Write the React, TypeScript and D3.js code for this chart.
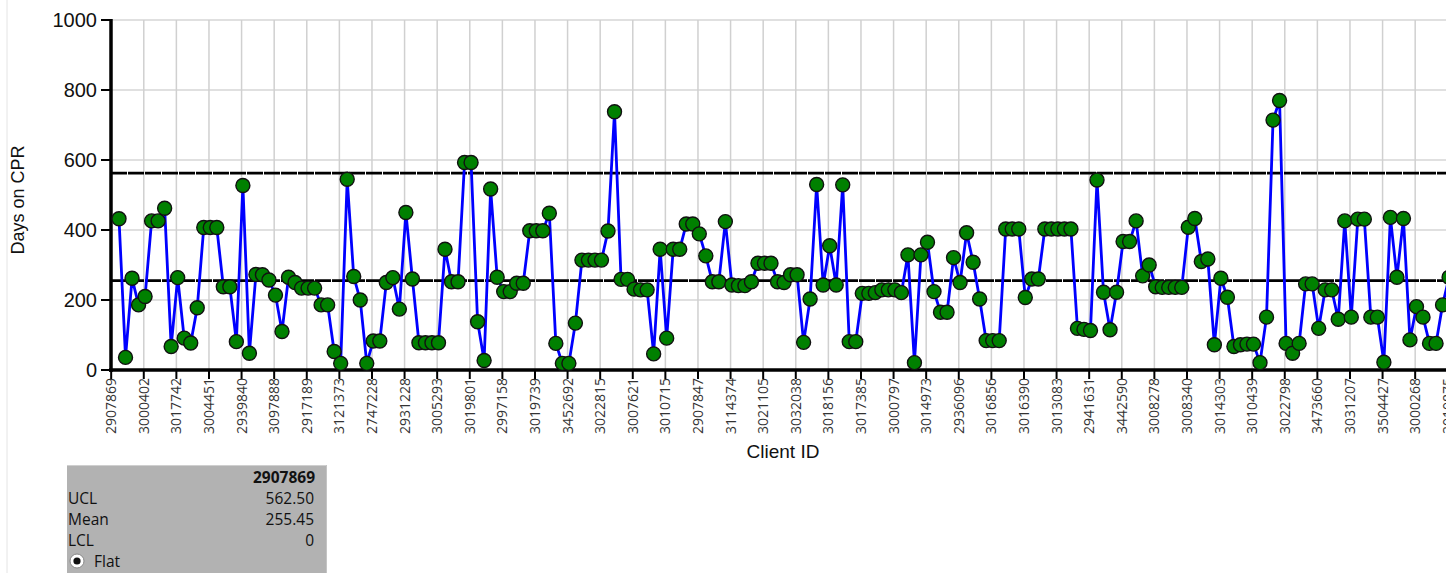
import React from 'react';
import * as d3 from 'd3';

// days on CPR per client, read left to right
const daysOnCpr = [
  432, 36, 262, 186, 210, 426, 426, 462, 67, 264,
  91, 77, 178, 407, 407, 407, 238, 238, 81, 527,
  48, 273, 272, 257, 214, 110, 265, 250, 234, 234,
  234, 186, 186, 53, 19, 545, 267, 200, 19, 83,
  83, 250, 264, 174, 450, 260, 78, 78, 78, 78,
  345, 252, 252, 593, 593, 138, 27, 517, 265, 224,
  224, 248, 248, 398, 398, 398, 448, 76, 19, 19,
  134, 314, 314, 314, 314, 397, 738, 259, 259, 231,
  229, 229, 46, 345, 91, 345, 345, 417, 417, 389,
  326, 252, 252, 424, 243, 241, 241, 252, 305, 305,
  305, 252, 250, 272, 272, 79, 203, 530, 243, 355,
  243, 529, 81, 81, 219, 219, 221, 229, 229, 229,
  221, 329, 21, 329, 365, 224, 165, 165, 321, 250,
  392, 308, 203, 84, 84, 84, 403, 403, 403, 207,
  260, 260, 403, 403, 403, 403, 403, 119, 116, 113,
  543, 222, 115, 222, 367, 367, 426, 269, 300, 238,
  236, 236, 236, 236, 408, 433, 310, 317, 72, 262,
  208, 67, 72, 74, 74, 21, 151, 714, 770, 76,
  48, 76, 246, 246, 119, 229, 229, 145, 426, 151,
  431, 431, 151, 151, 22, 436, 265, 433, 86, 181,
  151, 76, 76, 186, 265,
];

// every 5th client id is shown on the axis
const clientLabels = [
  '2907869', '3000402', '3017742', '3004451', '2939840', '3097888', '2917189',
  '3121373', '2747228', '2931228', '3005293', '3019801', '2997158', '3019739',
  '3452692', '3022815', '3007621', '3010715', '2907847', '3114374', '3021105',
  '3032038', '3018156', '3017385', '3000797', '3014973', '2936096', '3016856',
  '3016390', '3013083', '2941631', '3442590', '3008278', '3008340', '3014303',
  '3010439', '3022798', '3473660', '3031207', '3504427', '3000268', '3010875',
];

const yTicks = [0, 200, 400, 600, 800, 1000];
const ucl = 562.5;
const mean = 255.45;
const lcl = 0;

const W = 1446;
const H = 573;
const left = 111;
const top = 20;
const bottom = 370;
const labelEvery = 5;
const tickShift = 1.2; // labels sit a bit left of their point

export default function App() {
  const x = d3.scaleLinear()
    .domain([0, daysOnCpr.length - 1])
    .range([119, 119 + 6.52 * (daysOnCpr.length - 1)]);
  const y = d3.scaleLinear().domain([0, 1000]).range([bottom, top]);

  const line = d3.line<number>()
    .x((d, i) => x(i))
    .y(d => y(d));

  const tickX = (j: number) => x(j * labelEvery - tickShift);

  const infoRows = [
    ['UCL', ucl.toFixed(2)],
    ['Mean', mean.toFixed(2)],
    ['LCL', String(lcl)],
  ];

  return (
    <svg width={W} height={H} style={{ position: 'absolute', left: 0, top: 0, background: '#fff' }}>
      <line x1={7} x2={7} y1={0} y2={H} stroke="#e4e4e4" />

      {/* grid */}
      {yTicks.map(t => (
        <line key={'gy' + t} x1={left} x2={W} y1={y(t)} y2={y(t)} stroke="#d6d6d6" strokeWidth={1.5} />
      ))}
      {clientLabels.map((l, j) => (
        <line key={'gx' + j} x1={tickX(j)} x2={tickX(j)} y1={top} y2={bottom} stroke="#d0d0d0" strokeWidth={1.5} />
      ))}

      {/* control limits */}
      {[ucl, mean].map(v => (
        <line key={'c' + v} x1={left} x2={W} y1={y(v)} y2={y(v)} stroke="#000" strokeWidth={2.8} strokeDasharray="16,1" />
      ))}

      {/* axes */}
      <line x1={left} x2={left} y1={top - 1} y2={bottom + 2} stroke="#000" strokeWidth={3.5} />
      <line x1={left - 2} x2={W} y1={y(lcl)} y2={y(lcl)} stroke="#000" strokeWidth={3.5} />
      {yTicks.map(t => (
        <g key={'ty' + t}>
          <line x1={101} x2={left} y1={y(t)} y2={y(t)} stroke="#000" strokeWidth={2} />
          <text x={97} y={y(t)} dy="0.36em" textAnchor="end" fontFamily="Liberation Sans, Arial" fontSize={20} fill="#111">{t}</text>
        </g>
      ))}
      {clientLabels.map((l, j) => (
        <g key={'tx' + j}>
          <line x1={tickX(j)} x2={tickX(j)} y1={bottom} y2={bottom + 9} stroke="#000" strokeWidth={2} />
          <text transform={`translate(${tickX(j)},${bottom + 8}) rotate(-90)`} dy="0.36em" textAnchor="end"
            fontFamily="Open Sans" fontSize={14} fill="#333">{l}</text>
        </g>
      ))}
      <text x={783} y={458} textAnchor="middle" fontFamily="Liberation Sans, Arial" fontSize={19} fill="#111">Client ID</text>
      <text transform="translate(24,200) rotate(-90)" textAnchor="middle" fontFamily="Liberation Sans, Arial" fontSize={18} fill="#111">Days on CPR</text>

      {/* series */}
      <path d={line(daysOnCpr) || ''} fill="none" stroke="#0000ff" strokeWidth={2.8} />
      {daysOnCpr.map((d, i) => (
        <circle key={i} cx={x(i)} cy={y(d)} r={7} fill="#008000" stroke="#111" strokeWidth={1.4} />
      ))}

      {/* info box */}
      <rect x={67} y={465} width={260} height={H - 465} fill="#b2b2b2" />
      <line x1={67} x2={327} y1={465.5} y2={465.5} stroke="#cfcfcf" />
      <line x1={326.5} x2={326.5} y1={465} y2={H} stroke="#c4c4c4" />
      <text x={315} y={483} textAnchor="end" fontFamily="Open Sans" fontWeight="bold" fontSize={15.5} fill="#111">{clientLabels[0]}</text>
      {infoRows.map((r, i) => (
        <g key={r[0]}>
          <text x={68} y={504 + i * 21} fontFamily="Open Sans" fontSize={15.5} fill="#111">{r[0]}</text>
          <text x={314} y={504 + i * 21} textAnchor="end" fontFamily="Open Sans" fontSize={15.5} fill="#111">{r[1]}</text>
        </g>
      ))}
      <circle cx={77} cy={561} r={7} fill="#fff" stroke="#888" strokeWidth={1} />
      <circle cx={77} cy={561} r={3.6} fill="#111" />
      <text x={94} y={567} fontFamily="Open Sans" fontSize={15.5} fill="#111">Flat</text>
    </svg>
  );
}
